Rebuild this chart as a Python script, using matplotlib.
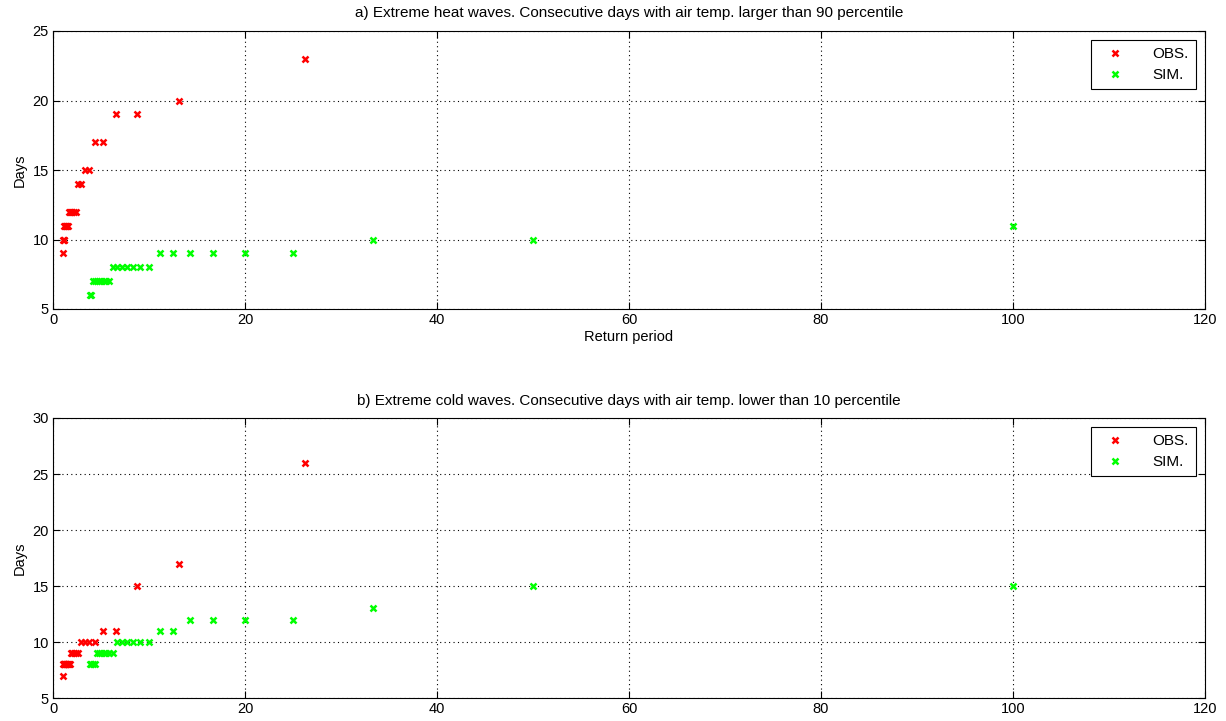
import numpy as np
import matplotlib
matplotlib.use("Agg")
import matplotlib.pyplot as plt

plt.rcParams['font.family'] = ['Liberation Sans', 'DejaVu Sans']
plt.rcParams['font.size'] = 10

# Return periods (years) of ranked events
obs_rank = np.arange(1, 27)
sim_rank = np.arange(1, 27)
obs_period = 26.25 / obs_rank
sim_period = 100.0 / sim_rank

# a) heat waves: consecutive days above 90th percentile
heat_obs = [23, 20, 19, 19, 17, 17, 15, 15, 14, 14, 12, 12, 12, 12, 12, 12,
            11, 11, 11, 11, 11, 11, 10, 10, 10, 9]
heat_sim = [11, 10, 10, 9, 9, 9, 9, 9, 9, 8, 8, 8, 8, 8, 8, 8,
            7, 7, 7, 7, 7, 7, 7, 7, 6, 6]

# b) cold waves: consecutive days below 10th percentile
cold_obs = [26, 17, 15, 11, 11, 10, 10, 10, 10, 9, 9, 9, 9, 9,
            8, 8, 8, 8, 8, 8, 8, 8, 8, 8, 8, 7]
cold_sim = [15, 15, 13, 12, 12, 12, 12, 11, 11, 10, 10, 10, 10, 10, 10,
            9, 9, 9, 9, 9, 9, 9, 8, 8, 8, 8]

fig = plt.figure(figsize=(12.26, 7.21), dpi=100)
ax1 = fig.add_axes([53 / 1226, 1 - 309 / 721, 1152 / 1226, 278 / 721])
ax2 = fig.add_axes([53 / 1226, 1 - 698 / 721, 1152 / 1226, 280 / 721])


def style_axes(ax, ylim, yticks):
    ax.set_xlim(0, 120)
    ax.set_ylim(*ylim)
    ax.set_xticks(np.arange(0, 121, 20))
    ax.set_yticks(yticks)
    ax.grid(True, linestyle=(0, (1, 3)), color='black', linewidth=0.8)
    ax.tick_params(direction='in', length=5, top=True, right=True,
                   labeltop=False, labelright=False, pad=3, labelsize=10.5)
    for s in ax.spines.values():
        s.set_linewidth(0.8)
    ax.set_ylabel("Days", fontsize=10.5, labelpad=4)


ax1.plot(obs_period, heat_obs, 'x', color=(1, 0, 0), ms=5, mew=1.8, label='OBS.')
ax1.plot(sim_period, heat_sim, 'x', color=(0, 1, 0), ms=5, mew=1.8, label='SIM.')
style_axes(ax1, (5, 25), np.arange(5, 26, 5))
ax1.set_xlabel("Return period", fontsize=10.5, labelpad=2)
ax1.set_title("a) Extreme heat waves. Consecutive days with air temp. larger than 90 percentile",
              fontsize=11, pad=10)

ax2.plot(obs_period, cold_obs, 'x', color=(1, 0, 0), ms=5, mew=1.8, label='OBS.')
ax2.plot(sim_period, cold_sim, 'x', color=(0, 1, 0), ms=5, mew=1.8, label='SIM.')
style_axes(ax2, (5, 30), np.arange(5, 31, 5))
ax2.set_title("b) Extreme cold waves. Consecutive days with air temp. lower than 10 percentile",
              fontsize=11, pad=9)

for ax in (ax1, ax2):
    leg = ax.legend(loc='upper right', fontsize=11, fancybox=False, framealpha=1,
                    edgecolor='black', borderaxespad=0.6, handlelength=2.2,
                    handletextpad=1.4, markerscale=0.9, borderpad=0.45,
                    labelspacing=0.45)
    leg.get_frame().set_linewidth(0.8)

plt.savefig("out.png", dpi=100)
